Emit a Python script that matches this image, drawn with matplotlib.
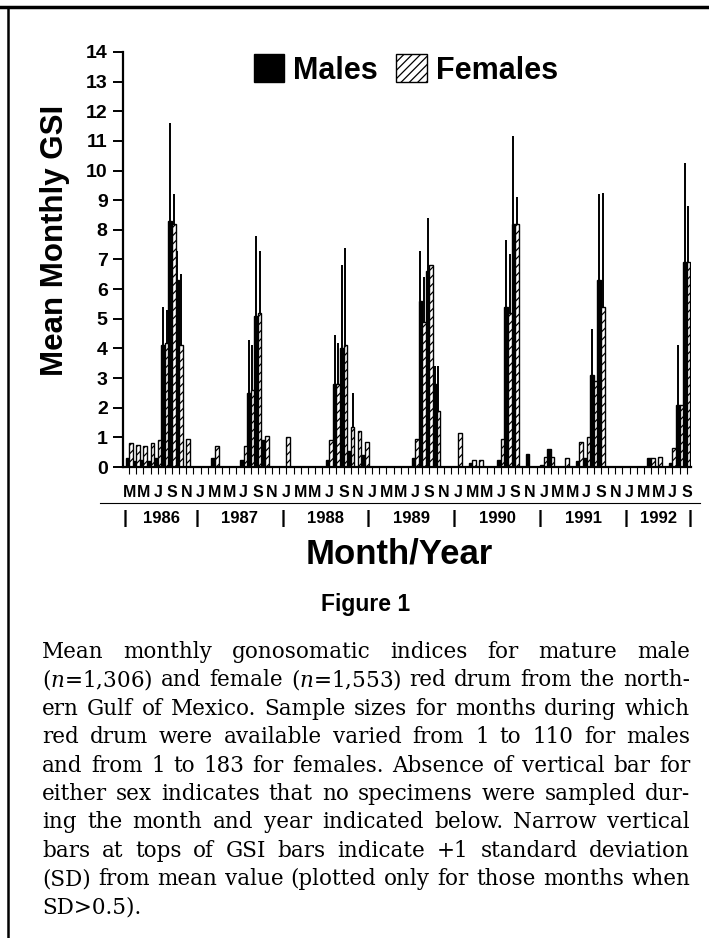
import numpy as np
import matplotlib
matplotlib.use('Agg')
import matplotlib.pyplot as plt
from matplotlib.patches import Patch
from matplotlib.lines import Line2D
import matplotlib.transforms as mtransforms

plt.rcParams['font.family'] = ['Liberation Sans', 'DejaVu Sans']
plt.rcParams['hatch.linewidth'] = 0.9
plt.rcParams['mathtext.fontset'] = 'custom'
plt.rcParams['mathtext.it'] = 'DejaVu Serif:italic'
plt.rcParams['mathtext.rm'] = 'DejaVu Serif'

nan = np.nan

# ---- data: monthly means, Mar 1986 .. Sep 1992 (79 months) ----
month_letters = ['J', 'F', 'M', 'A', 'M', 'J', 'J', 'A', 'S', 'O', 'N', 'D']
years = ['1986', '1987', '1988', '1989', '1990', '1991', '1992']
first_month = 3  # March 1986

male = (
    [0.3, 0.2, 0.25, 0.2, 0.3, 4.1, 8.3, 6.3, nan, nan]                    # 1986 Mar-Dec
    + [nan, nan, 0.3, nan, nan, nan, 0.25, 2.5, 5.1, 0.9, nan, nan]        # 1987
    + [nan, nan, nan, nan, nan, nan, 0.25, 2.8, 4.0, 0.55, nan, 0.4]       # 1988
    + [nan, nan, nan, nan, nan, nan, 0.3, 5.6, 6.6, 2.8, nan, nan]         # 1989
    + [nan, nan, 0.15, nan, nan, nan, 0.25, 5.4, 8.2, nan, 0.45, nan]      # 1990
    + [0.07, 0.6, nan, nan, nan, 0.2, 0.3, 3.1, 6.3, nan, nan, nan]        # 1991
    + [nan, nan, nan, 0.3, nan, nan, 0.15, 2.1, 6.9]                       # 1992 Jan-Sep
)
female = (
    [0.8, 0.75, 0.7, 0.8, 0.9, 4.2, 8.2, 4.1, 0.95, nan]
    + [nan, nan, 0.7, nan, nan, nan, 0.7, 2.6, 5.2, 1.05, nan, nan]
    + [1.0, nan, nan, nan, nan, nan, 0.9, 2.8, 4.1, 1.35, 1.2, 0.85]
    + [nan, nan, nan, nan, nan, nan, 0.95, 4.9, 6.8, 1.9, nan, nan]
    + [1.15, nan, 0.25, 0.25, nan, nan, 0.95, 5.2, 8.2, nan, nan, nan]
    + [0.35, 0.35, nan, 0.3, nan, 0.85, 1.0, 2.9, 5.4, nan, nan, nan]
    + [nan, nan, nan, 0.3, 0.35, nan, 0.65, 2.1, 6.9]
)
# +1 SD (only where SD > 0.5)
male_sd = (
    [nan] * 5 + [1.3, 3.3, 1.0, nan, nan]
    + [nan] * 7 + [1.8, 2.7, nan, nan, nan]
    + [nan] * 7 + [1.65, 2.8, nan, nan, nan]
    + [nan] * 7 + [1.7, 1.8, 0.6, nan, nan]
    + [nan] * 7 + [2.25, 2.95, nan, nan, nan]
    + [nan] * 7 + [1.55, 2.9, nan, nan, nan]
    + [nan] * 7 + [2.0, 3.35]
)
female_sd = (
    [nan] * 5 + [1.1, 1.0, 2.4, nan, nan]
    + [nan] * 7 + [1.5, 2.1, nan, nan, nan]
    + [nan] * 7 + [1.4, 3.3, 1.15, nan, nan]
    + [nan] * 7 + [1.5, nan, 1.5, nan, nan]
    + [nan] * 7 + [2.0, 0.9, nan, nan, nan]
    + [nan] * 7 + [nan, 3.85, nan, nan, nan]
    + [nan] * 7 + [nan, 1.9]
)

caption = [
    "Mean monthly gonosomatic indices for mature male",
    "($n$=1,306) and female ($n$=1,553) red drum from the north-",
    "ern Gulf of Mexico. Sample sizes for months during which",
    "red drum were available varied from 1 to 110 for males",
    "and from 1 to 183 for females. Absence of vertical bar for",
    "either sex indicates that no specimens were sampled dur-",
    "ing the month and year indicated below. Narrow vertical",
    "bars at tops of GSI bars indicate +1 standard deviation",
    "(SD) from mean value (plotted only for those months when",
    "SD>0.5).",
]

male = np.array(male)
female = np.array(female)
male_sd = np.array(male_sd)
female_sd = np.array(female_sd)
x = np.arange(len(male))

W, H = 709, 938
fig = plt.figure(figsize=(W / 100, H / 100), dpi=100)


def fx(px):
    return px / W


def fy(py):
    return 1 - py / H


ax = fig.add_axes([fx(123), fy(467), fx(691) - fx(123), fy(52) - fy(467)])

ax.bar(x - 0.25, male, width=0.5, color='black', edgecolor='black', linewidth=1.0)
ax.bar(x + 0.25, female, width=0.5, facecolor='white', edgecolor='black',
       hatch='////', linewidth=1.0)
m = ~np.isnan(male_sd)
ax.vlines(x[m] - 0.25, male[m], male[m] + male_sd[m], color='black', linewidth=1.4)
f = ~np.isnan(female_sd)
ax.vlines(x[f] + 0.25, female[f], female[f] + female_sd[f], color='black', linewidth=1.4)

ax.set_xlim(-0.86, 78.6)
ax.set_ylim(0, 14)
for s in ['top', 'right']:
    ax.spines[s].set_visible(False)
ax.spines['left'].set_linewidth(1.6)
ax.spines['bottom'].set_linewidth(1.6)
ax.set_yticks(range(0, 15))
ax.set_yticklabels([str(v) for v in range(0, 15)], fontsize=14, fontweight='bold')
ax.tick_params(axis='y', length=7, width=1.4, pad=4)
ax.set_xticks(x)
ax.set_xticklabels([])
ax.tick_params(axis='x', length=5, width=0.8)

# month letters and year row
tr = mtransforms.blended_transform_factory(ax.transData, fig.transFigure)
for k in x:
    if k % 2 == 0:
        ax.text(k, fy(492), month_letters[(k + first_month - 1) % 12], transform=tr,
                ha='center', va='center', fontsize=11.5, fontweight='bold')
bounds = [-0.5, 9.5, 21.5, 33.5, 45.5, 57.5, 69.5, 78.5]
for b in bounds:
    ax.text(b, fy(518), '|', transform=tr, ha='center', va='center',
            fontsize=13, fontweight='bold')
for i, yr in enumerate(years):
    ax.text((bounds[i] + bounds[i + 1]) / 2, fy(518), yr, transform=tr,
            ha='center', va='center', fontsize=12, fontweight='bold')
fig.add_artist(Line2D([fx(100), fx(700)], [fy(503), fy(503)], color='black', linewidth=0.8))

# frame lines
fig.add_artist(Line2D([0, 1], [fy(7), fy(7)], color='black', linewidth=2.5))
fig.add_artist(Line2D([fx(8), fx(8)], [fy(7), 0], color='black', linewidth=1.8))

# legend
handles = [Patch(facecolor='black', edgecolor='black'),
           Patch(facecolor='white', edgecolor='black', hatch='////')]
fig.legend(handles, ['Males', 'Females'], loc='center', bbox_to_anchor=(fx(406), fy(70)),
           ncol=2, frameon=False, prop={'size': 22, 'weight': 'bold'},
           handlelength=1.0, handleheight=1.0, handletextpad=0.3, columnspacing=0.6)

fig.text(fx(55), fy(240), 'Mean Monthly GSI', rotation=90, ha='center', va='center',
         fontsize=22.5, fontweight='bold')
fig.text(fx(399), fy(554), 'Month/Year', ha='center', va='center', fontsize=25,
         fontweight='bold')
fig.text(fx(366), fy(605), 'Figure 1', ha='center', va='center', fontsize=16.5,
         fontweight='bold')

# justified caption
renderer = fig.canvas.get_renderer()
cap_x0, cap_x1 = 42, 690
cap_y0, cap_dy = 658, 28.4
cap_size = 15.5
for i, line in enumerate(caption):
    yb = fy(cap_y0 + i * cap_dy)
    if i == len(caption) - 1:
        fig.text(fx(cap_x0), yb, line, fontsize=cap_size, family='DejaVu Serif', va='baseline')
        continue
    words = line.split(' ')
    arts = [fig.text(0, yb, w, fontsize=cap_size, family='DejaVu Serif', va='baseline')
            for w in words]
    widths = [a.get_window_extent(renderer).width for a in arts]
    gap = (cap_x1 - cap_x0 - sum(widths)) / (len(words) - 1)
    xpos = cap_x0
    for a, w in zip(arts, widths):
        a.set_x(fx(xpos))
        xpos += w + gap

fig.savefig('out.png', dpi=100)
